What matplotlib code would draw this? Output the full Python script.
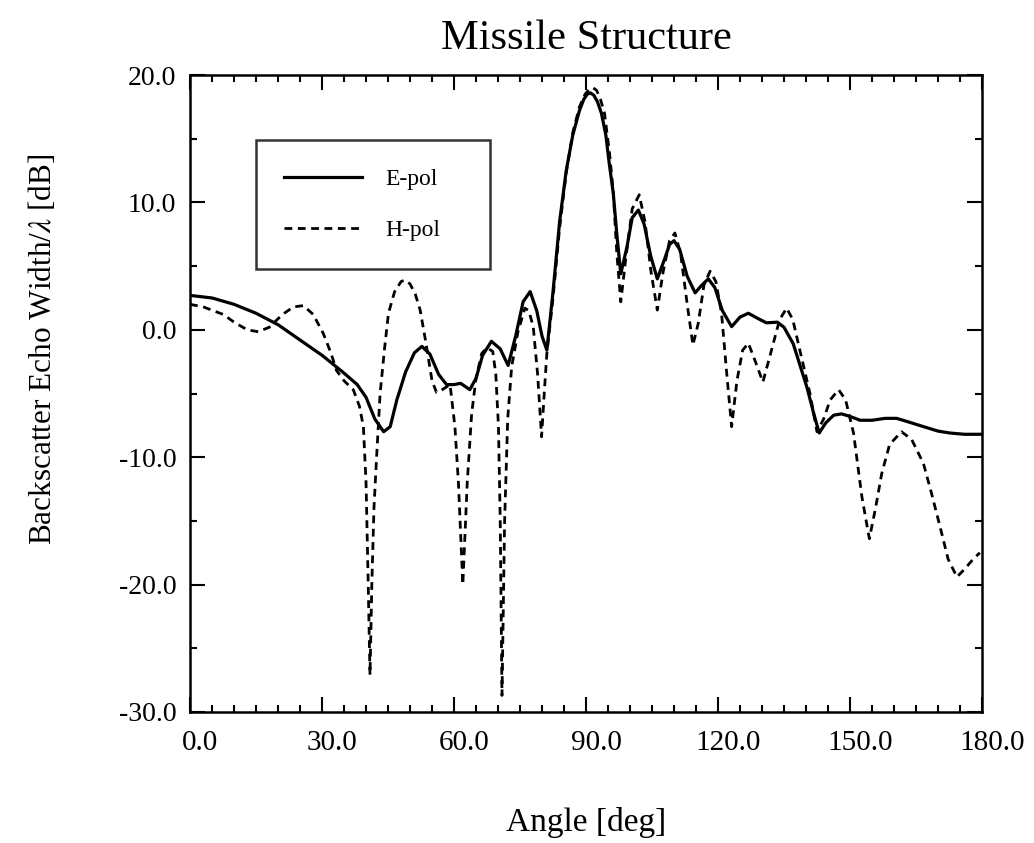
import matplotlib
matplotlib.use('Agg')
import matplotlib.pyplot as plt
import matplotlib.transforms as mtransforms
from matplotlib.ticker import MultipleLocator

plt.rcParams['font.family'] = ['Liberation Serif', 'DejaVu Serif']
plt.rcParams['mathtext.fontset'] = 'stix'

# E-pol (solid)
e_angle = [0, 5, 10, 15, 20, 25, 30, 35, 38, 40, 42, 44, 45.5, 47, 49, 51, 52.7,
           54.5, 56.5, 58.3, 60, 61.5, 63.6, 65, 66.5, 68.5, 70.5, 72.3, 74, 75.7,
           77.3, 78.8, 80, 81.1, 82.5, 84, 85.5, 87, 88.5, 89.5, 90.3, 91, 91.8,
           92.6, 93.5, 94.5, 95.3, 96.2, 97, 97.9, 99.3, 100.5, 101.9, 103.2, 104.7,
           106.2, 107.8, 109, 110, 111.3, 113, 114.8, 116.3, 117.8, 119.3, 121,
           123.1, 125, 126.9, 129, 131, 133.5, 135, 137.1, 140.2, 141.7, 143, 144.5,
           146.3, 148.1, 150, 152.3, 155, 158, 160.6, 163, 166.7, 170, 172.7, 176,
           180]
e_db = [2.7, 2.5, 2.0, 1.3, 0.4, -0.8, -2.0, -3.4, -4.3, -5.3, -7.0, -8.0, -7.6,
        -5.5, -3.3, -1.8, -1.3, -1.9, -3.5, -4.3, -4.3, -4.2, -4.7, -3.8, -2.0,
        -0.9, -1.5, -2.8, -0.5, 2.2, 3.0, 1.5, -0.5, -1.6, 3.0, 8.5, 12.5, 15.3,
        17.2, 18.1, 18.5, 18.6, 18.4, 17.9, 17.0, 15.3, 13.0, 10.7, 7.5, 4.4, 6.5,
        8.8, 9.4, 8.3, 5.8, 4.0, 5.5, 6.7, 7.0, 6.3, 4.2, 2.9, 3.5, 4.0, 3.3, 1.5,
        0.25, 1.0, 1.3, 0.9, 0.55, 0.6, 0.2, -1.1, -4.5, -6.5, -8.1, -7.3, -6.7,
        -6.6, -6.8, -7.1, -7.1, -6.95, -6.95, -7.2, -7.6, -7.95, -8.1, -8.2, -8.2]

# H-pol (dashed)
h_angle = [0, 3, 7.6, 10, 13, 15.5, 18, 21, 23.5, 25.8, 28, 30.3, 32, 33.3, 35,
           37.1, 38.5, 39.4, 40, 40.5, 40.9, 41.3, 41.8, 42.4, 43.2, 44.2, 45.1,
           46.5, 48, 48.9, 50, 51.2, 52.3, 53.5, 55, 56, 57.3, 59.1, 60.2, 61, 62,
           63, 64, 65, 66.3, 67.5, 68.8, 69.5, 70.1, 70.5, 70.9, 71.5, 72.2, 72.7,
           73.1, 74.5, 76.1, 77, 78, 79, 79.9, 80.5, 81.1, 82.5, 84, 85.5, 87, 88.5,
           89.8, 90.8, 91.6, 92.4, 93.2, 94.2, 95.3, 96.2, 97, 97.9, 99, 100.5,
           102.1, 103.4, 104.8, 106.2, 107.5, 109, 110.2, 111.5, 113, 114.3, 115.5,
           116.8, 118.2, 119.5, 120.8, 122, 123.1, 124.3, 125.6, 126.9, 128.5,
           130.2, 132, 134, 135.6, 137, 138.6, 140.9, 142.5, 144, 145.5, 147.4, 149,
           150.8, 152.7, 154.4, 155.8, 157.2, 159, 161.7, 164, 166.7, 168.5, 170.5,
           172.3, 174.3, 176, 178, 179.5]
h_db = [2.0, 1.8, 1.2, 0.6, 0.0, -0.15, 0.2, 1.2, 1.8, 1.9, 1.2, -0.3, -1.8, -3.2,
        -4.0, -4.7, -6.0, -7.6, -12.0, -20.0, -27.1, -20.2, -14.0, -10.0, -5.0,
        -1.5, 1.3, 3.0, 3.8, 3.9, 3.6, 2.8, 1.55, -0.8, -4.0, -4.9, -4.7, -4.3,
        -7.6, -12.0, -20.0, -12.0, -6.6, -3.8, -1.85, -1.4, -1.7, -3.5, -7.6,
        -15.0, -28.7, -15.0, -7.0, -4.7, -2.9, -0.2, 1.7, 1.5, 0.25, -3.5, -8.4,
        -5.0, -1.85, 2.5, 8.0, 12.3, 15.5, 17.5, 18.5, 18.9, 19.0, 18.8, 18.2,
        17.0, 14.0, 10.8, 6.0, 2.2, 5.5, 9.5, 10.6, 8.5, 4.5, 1.55, 4.5, 7.0, 7.6,
        6.0, 2.0, -1.2, 0.5, 3.5, 4.6, 3.8, 1.3, -3.5, -7.6, -4.0, -1.6, -1.05,
        -2.5, -4.1, -1.8, 0.8, 1.7, 0.8, -1.6, -5.0, -8.0, -7.0, -5.5, -4.7, -5.5,
        -8.1, -13.1, -16.4, -14.0, -11.3, -9.0, -8.0, -8.6, -10.5, -12.8, -15.5,
        -18.0, -19.4, -18.8, -18.0, -17.5]

x_ticks = [0, 30, 60, 90, 120, 150, 180]
x_labels = ['0.0', '30.0', '60.0', '90.0', '120.0', '150.0', '180.0']
y_ticks = [-30, -20, -10, 0, 10, 20]
y_labels = ['-30.0', '-20.0', '-10.0', '0.0', '10.0', '20.0']

fig = plt.figure(figsize=(10.34, 8.43), dpi=100)
ax = fig.add_axes([0.1838, 0.1554, 0.7659, 0.7556])

ax.plot(e_angle, e_db, color='black', lw=2.3, label='E-pol')
ax.plot(h_angle, h_db, color='black', lw=2.0, dashes=(2.8, 2.0), label='H-pol')

ax.set_xlim(0, 180)
ax.set_ylim(-30, 20)
ax.set_xticks(x_ticks)
ax.set_xticklabels(x_labels, fontsize=21)
ax.set_yticks(y_ticks)
ax.set_yticklabels(y_labels, fontsize=20)
ax.xaxis.set_minor_locator(MultipleLocator(5))
ax.yaxis.set_minor_locator(MultipleLocator(5))
ax.tick_params(which='both', direction='in', top=True, right=True, width=1.5)
ax.tick_params(which='major', length=11)
ax.tick_params(which='minor', length=5)
ax.tick_params(axis='x', pad=13)
ax.tick_params(axis='y', pad=10)

# labels sit slightly right of their ticks in the original
offset = mtransforms.ScaledTranslation(10 / 100, 0, fig.dpi_scale_trans)
for lab in ax.get_xticklabels():
    lab.set_transform(lab.get_transform() + offset)

for sp in ax.spines.values():
    sp.set_linewidth(1.8)

ax.set_title('Missile Structure', fontsize=30.5, pad=19)
ax.set_xlabel('Angle [deg]', fontsize=24, labelpad=37)
ax.set_ylabel('Backscatter Echo Width/$\\lambda$ [dB]', fontsize=22.5)
ax.yaxis.set_label_coords(-0.167, 0.57)

leg = ax.legend(loc='upper left', bbox_to_anchor=(0.083, 0.698, 0.296, 0.2),
                mode='expand', fontsize=17, frameon=True, fancybox=False,
                edgecolor='black', handlelength=3.3, handletextpad=1.0,
                borderpad=1.2, labelspacing=1.25, borderaxespad=0)
leg.get_frame().set_linewidth(1.8)

fig.savefig('out.png', dpi=100)
plt.close(fig)
